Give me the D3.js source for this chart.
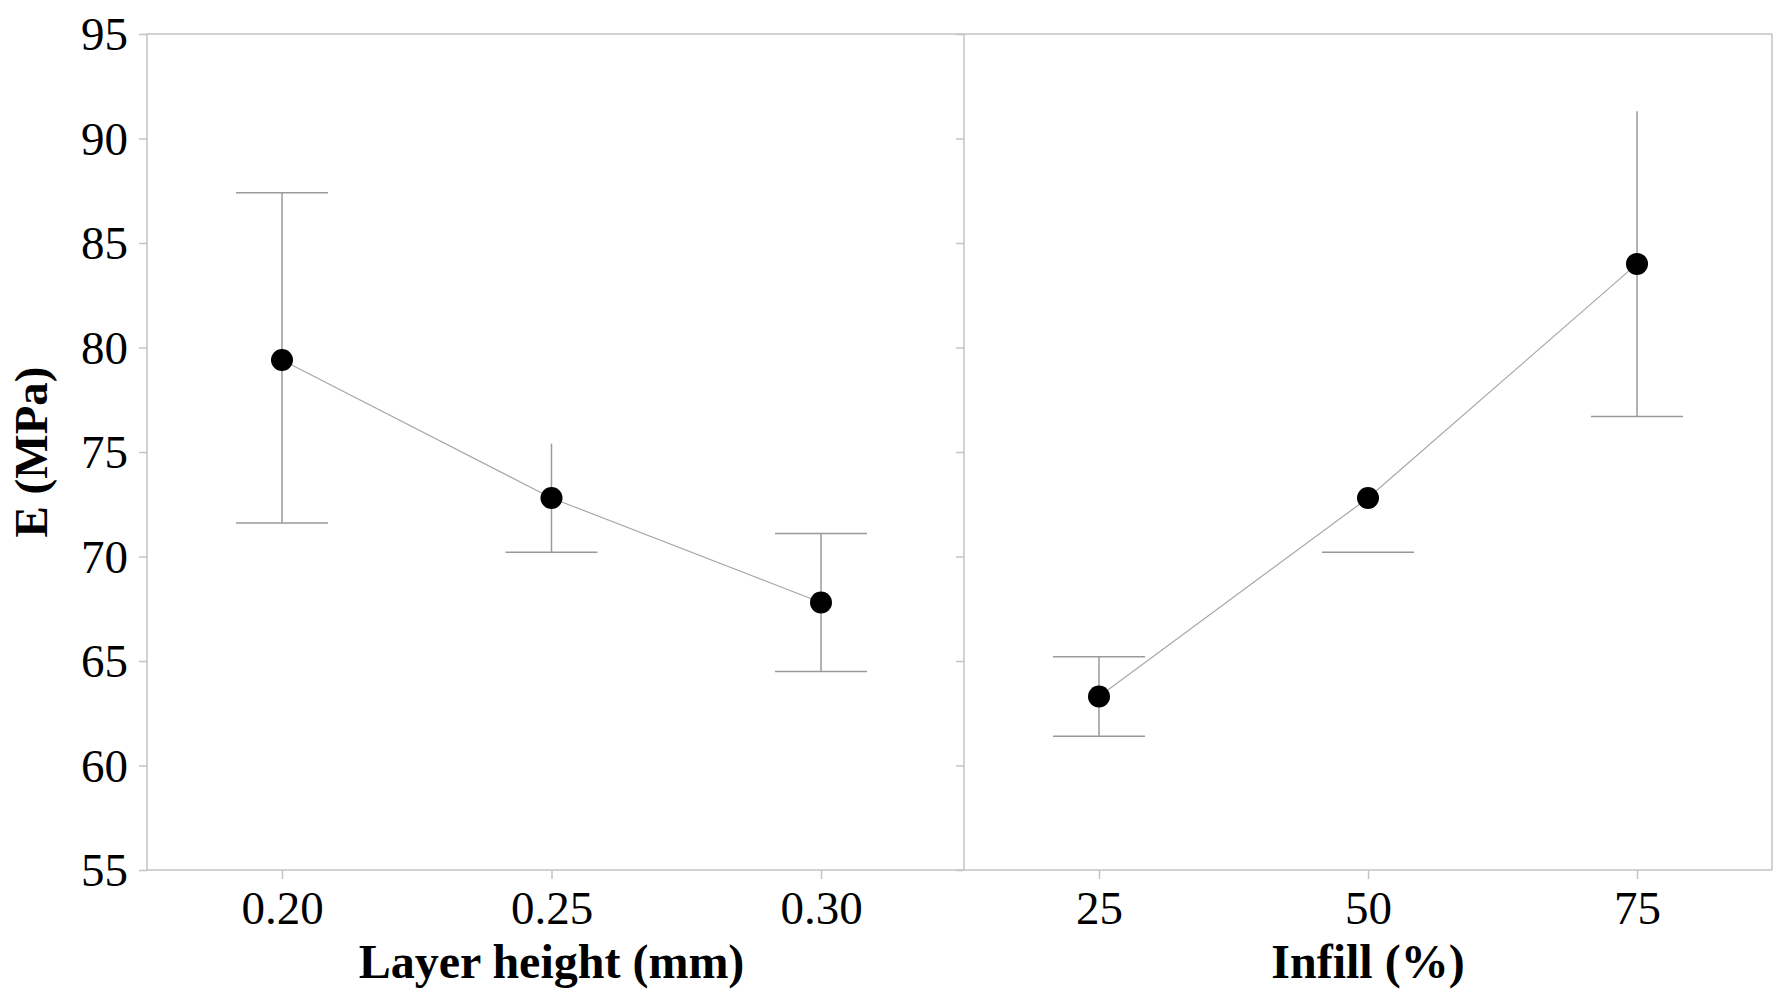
<!DOCTYPE html>
<html>
<head>
<meta charset="utf-8">
<script src="https://cdn.jsdelivr.net/npm/d3@7"></script>
<style>
  html, body { margin: 0; padding: 0; background: #fff; }
  svg { display: block; }
</style>
</head>
<body>
<svg id="chart" width="1786" height="1000"></svg>
<script>
// ---- data ----
const yTicks = [55, 60, 65, 70, 75, 80, 85, 90, 95];

const layerCats  = ["0.20", "0.25", "0.30"];
const layerMean  = [79.4, 72.8, 67.8];
const layerUpper = [87.4, 75.4, 71.1];
const layerLower = [71.6, 70.2, 64.5];
const layerUpperCap = [true, false, true];
const layerStem  = [true, true, true];

const infillCats  = ["25", "50", "75"];
const infillMean  = [63.3, 72.8, 84.0];
const infillUpper = [65.2, 72.8, 91.3];
const infillLower = [61.4, 70.2, 76.7];
const infillUpperCap = [true, false, false];
const infillStem  = [true, false, true];

const yTitle = "E (MPa)";
const layerTitle = "Layer height (mm)";
const infillTitle = "Infill (%)";

// ---- layout ----
const svg = d3.select("#chart");
const plotTop = 34, plotBottom = 870;
const leftX0 = 147, divX = 964, rightX1 = 1772;
const axisColor = "#c4c4c4";
const font = "'Liberation Serif', 'Times New Roman', serif";

svg.append("rect").attr("width", 1786).attr("height", 1000).attr("fill", "#fff");

const y = d3.scaleLinear().domain([55, 95]).range([plotBottom, plotTop]);

const xL = d3.scalePoint().domain(layerCats).range([282, 821]);
const xR = d3.scalePoint().domain(infillCats).range([1099, 1637]);

// frame
svg.append("rect")
  .attr("x", leftX0).attr("y", plotTop)
  .attr("width", rightX1 - leftX0).attr("height", plotBottom - plotTop)
  .attr("fill", "none").attr("stroke", axisColor).attr("stroke-width", 1.5);
svg.append("line")
  .attr("x1", divX).attr("x2", divX).attr("y1", plotTop).attr("y2", plotBottom)
  .attr("stroke", axisColor).attr("stroke-width", 1.5);

// y axis (left)
const yAxis = svg.append("g")
  .attr("transform", `translate(${leftX0},0)`)
  .call(d3.axisLeft(y).tickValues(yTicks).tickSize(8).tickPadding(11).tickFormat(d3.format("d")));
yAxis.select(".domain").remove();
yAxis.selectAll(".tick line").attr("stroke", axisColor).attr("stroke-width", 1.5);
yAxis.selectAll(".tick text")
  .attr("font-family", font).attr("font-size", 47).attr("fill", "#000")
  .attr("dy", "0.34em");

// divider ticks
const yAxis2 = svg.append("g")
  .attr("transform", `translate(${divX},0)`)
  .call(d3.axisLeft(y).tickValues(yTicks).tickSize(8).tickFormat(""));
yAxis2.select(".domain").remove();
yAxis2.selectAll(".tick line").attr("stroke", axisColor).attr("stroke-width", 1.5);

// x axes
function styleX(g) {
  g.select(".domain").remove();
  g.selectAll(".tick line").attr("stroke", axisColor).attr("stroke-width", 1.5);
  g.selectAll(".tick text")
    .attr("font-family", font).attr("font-size", 47).attr("fill", "#000")
    .attr("dy", "0.71em");
}
svg.append("g").attr("transform", `translate(0,${plotBottom})`)
  .call(d3.axisBottom(xL).tickSize(9).tickPadding(12)).call(styleX);
svg.append("g").attr("transform", `translate(0,${plotBottom})`)
  .call(d3.axisBottom(xR).tickSize(9).tickPadding(12)).call(styleX);

// titles
svg.append("text")
  .attr("x", (xL.range()[0] + xL.range()[1]) / 2).attr("y", 978)
  .attr("text-anchor", "middle").attr("font-family", font)
  .attr("font-weight", "bold").attr("font-size", 48).text(layerTitle);
svg.append("text")
  .attr("x", (xR.range()[0] + xR.range()[1]) / 2).attr("y", 978)
  .attr("text-anchor", "middle").attr("font-family", font)
  .attr("font-weight", "bold").attr("font-size", 48).text(infillTitle);
svg.append("text")
  .attr("transform", `translate(47,${(plotTop + plotBottom) / 2}) rotate(-90)`)
  .attr("text-anchor", "middle").attr("font-family", font)
  .attr("font-weight", "bold").attr("font-size", 47).text(yTitle);

// series
const capHalf = 46;
function drawSeries(x, cats, mean, upper, lower, upperCap, stem) {
  const pts = cats.map((c, i) => ({ c, m: mean[i], u: upper[i], l: lower[i], uc: upperCap[i], s: stem[i] }));
  const g = svg.append("g");
  g.append("path")
    .datum(pts)
    .attr("d", d3.line().x(d => x(d.c)).y(d => y(d.m)))
    .attr("fill", "none").attr("stroke", "#a8a8a8").attr("stroke-width", 1.2);
  const eb = g.selectAll(".eb").data(pts).enter().append("g");
  eb.filter(d => d.s).append("line")
    .attr("x1", d => x(d.c)).attr("x2", d => x(d.c))
    .attr("y1", d => y(d.u)).attr("y2", d => y(d.l))
    .attr("stroke", "#9a9a9a").attr("stroke-width", 1.5);
  eb.filter(d => d.uc).append("line")
    .attr("x1", d => x(d.c) - capHalf).attr("x2", d => x(d.c) + capHalf)
    .attr("y1", d => y(d.u)).attr("y2", d => y(d.u))
    .attr("stroke", "#9a9a9a").attr("stroke-width", 1.5);
  eb.append("line")
    .attr("x1", d => x(d.c) - capHalf).attr("x2", d => x(d.c) + capHalf)
    .attr("y1", d => y(d.l)).attr("y2", d => y(d.l))
    .attr("stroke", "#9a9a9a").attr("stroke-width", 1.5);
  g.selectAll("circle").data(pts).enter().append("circle")
    .attr("cx", d => x(d.c)).attr("cy", d => y(d.m)).attr("r", 11)
    .attr("fill", "#000");
}
drawSeries(xL, layerCats, layerMean, layerUpper, layerLower, layerUpperCap, layerStem);
drawSeries(xR, infillCats, infillMean, infillUpper, infillLower, infillUpperCap, infillStem);
</script>
</body>
</html>
